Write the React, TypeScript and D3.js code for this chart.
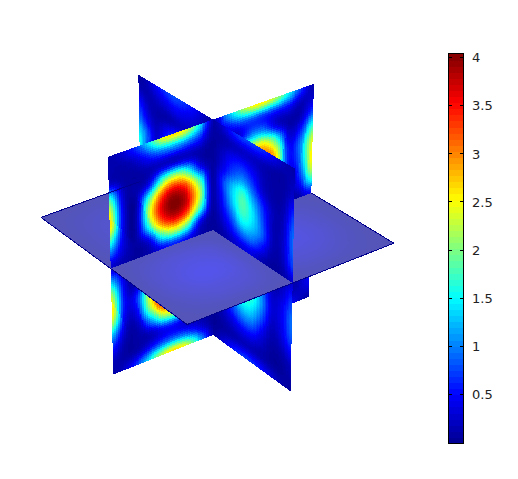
import React from "react";
import * as d3 from "d3";

// Colour limits and colourbar labels
const cMin = 0;
const cMax = 4.04;
const tickValues = [0.5, 1, 1.5, 2, 2.5, 3, 3.5, 4];
const tickLabels = ["0.5", "1", "1.5", "2", "2.5", "3", "3.5", "4"];
const jetStops = ["#00008f", "#0000ff", "#00ffff", "#ffff00", "#ff0000", "#800000"];

// Plane through the vertical axis, front-left (col 0) to back-right (col 16); rows top to bottom
const planeB: number[][] = [
  [.1, .3, .7, 1.4, 2.4, 2.7, 2.4, 1.4, .2, 1.0, 1.9, 2.5, 2.6, 2.2, 1.5, .7, .1],
  [.15, .12, .25, .6, .9, 1.0, .9, .6, .1, .4, .7, .8, .7, .6, .5, .2, .3],
  [.3, .12, .08, .15, .25, .25, .25, .12, .05, .1, .35, .95, .95, .35, .12, .2, .8],
  [1.7, .3, .12, .45, 1.7, 2.2, 1.7, .45, .08, .35, 1.7, 2.4, 2.5, 1.7, .35, .6, 1.7],
  [2.5, .45, .12, 1.7, 3.15, 3.65, 3.15, 1.7, .08, 1.05, 2.6, 3.5, 3.3, 2.6, .6, 1.0, 2.4],
  [2.65, .5, .15, 2.2, 3.65, 4.05, 3.65, 2.2, .1, 1.05, 2.7, 3.7, 3.7, 2.7, .6, 1.0, 2.6],
  [1.8, .4, .12, 1.7, 3.15, 3.65, 3.15, 1.7, .08, .35, 1.8, 2.7, 2.7, 1.8, .35, .8, 2.4],
  [.9, .3, .08, .45, 1.7, 2.2, 1.7, .45, .06, .12, .35, 1.05, 1.05, .35, .15, .5, 1.6],
  [.3, .15, .06, .15, .45, .6, .45, .15, .05, .08, .12, .2, .2, .15, .1, .15, .5],
  [1.2, .3, .12, .6, 1.5, 1.7, 1.1, .3, .06, .2, .7, 1.5, 1.7, 1.4, .6, .3, 1.2],
  [2.2, .45, .3, 1.9, 3.1, 3.35, 2.4, .9, .1, .9, 2.2, 3.0, 3.1, 2.4, .9, .6, 2.0],
  [2.65, .55, .7, 2.5, 3.7, 3.9, 3.2, 1.4, .15, 1.2, 2.8, 3.6, 3.5, 2.6, 1.0, .8, 2.4],
  [2.3, .45, .5, 2.2, 3.45, 3.6, 2.8, 1.1, .12, 1.0, 2.4, 3.0, 2.9, 2.1, .8, .6, 2.0],
  [1.3, .25, .2, 1.1, 2.1, 2.3, 1.65, .4, .08, .6, 1.5, 2.0, 1.9, 1.2, .5, .3, 1.2],
  [.6, .12, .1, .2, .5, .55, .3, .15, .06, .25, .6, .7, .7, .5, .2, .2, .6],
  [.2, .1, .18, .5, .8, .9, .75, .35, .06, .2, .4, .5, .5, .4, .2, .2, .4],
  [.1, .3, .8, 1.6, 2.4, 2.7, 2.3, 1.2, .2, .7, 1.5, 2.2, 2.3, 1.8, .9, .3, .1],
];

// Plane through the vertical axis, back-left (col 0) to front-right (col 16); rows top to bottom
const planeA: number[][] = [
  [.05, .2, .5, .7, .8, .7, .5, .25, .1, .3, .6, .75, .75, .65, .45, .2, .1],
  [.2, .15, .25, .35, .45, .4, .3, .15, .08, .12, .2, .25, .25, .2, .12, .1, .2],
  [.6, .25, .12, .12, .2, .25, .2, .1, .05, .25, .5, .6, .45, .2, .1, .1, .3],
  [.9, .45, .2, .5, .8, .7, .4, .15, .06, .4, .8, 1.05, .75, .3, .12, .15, .6],
  [1.35, .8, .3, .8, 1.3, 1.2, .6, .2, .08, .7, 1.3, 1.72, 1.2, .65, .2, .2, .85],
  [1.6, .7, .3, .9, 1.5, 1.4, .7, .2, .1, .6, 1.3, 1.8, 1.45, .8, .2, .25, .95],
  [1.1, .4, .3, .8, 1.3, 1.2, .6, .2, .08, .45, .95, 1.5, 1.3, .85, .2, .25, .9],
  [.7, .3, .2, .5, .8, .7, .4, .15, .06, .25, .55, .85, .85, .5, .12, .2, .7],
  [.3, .1, .1, .2, .3, .3, .15, .08, .05, .1, .25, .35, .35, .15, .06, .1, .3],
  [.7, .3, .2, .5, .8, .7, .4, .15, .06, .35, .8, 1.1, 1.05, .6, .15, .25, .6],
  [1.1, .4, .3, .8, 1.3, 1.2, .6, .2, .1, .55, 1.25, 1.7, 1.6, 1.0, .3, .4, .85],
  [1.3, .5, .3, .9, 1.5, 1.4, .7, .2, .1, .6, 1.3, 1.8, 1.7, 1.1, .35, .45, .95],
  [1.1, .4, .3, .8, 1.3, 1.2, .6, .2, .08, .45, .95, 1.45, 1.4, .85, .25, .4, .85],
  [.7, .3, .2, .5, .8, .7, .4, .15, .06, .3, .65, .95, .95, .5, .15, .25, .55],
  [.5, .2, .1, .15, .2, .25, .2, .1, .05, .15, .3, .45, .45, .25, .08, .1, .25],
  [.2, .15, .2, .3, .4, .4, .3, .15, .05, .08, .15, .2, .2, .15, .08, .06, .12],
  [.05, .2, .5, .7, .8, .7, .5, .25, .08, .3, .55, .7, .7, .55, .35, .15, .05],
];

// Horizontal plane: rows along the A direction (back to front), cols along the B direction (front to back)
const planeH: number[][] = [
  [.02, .03, .04, .05, .04, .05, .06, .04, .02],
  [.03, .1, .14, .14, .08, .14, .16, .12, .04],
  [.04, .14, .22, .2, .1, .2, .26, .16, .05],
  [.04, .14, .18, .18, .08, .2, .22, .14, .04],
  [.03, .08, .1, .08, .04, .08, .1, .08, .03],
  [.04, .18, .28, .25, .08, .24, .26, .14, .04],
  [.05, .22, .36, .32, .1, .3, .3, .16, .04],
  [.04, .14, .22, .2, .08, .18, .18, .1, .03],
  [.02, .04, .05, .05, .03, .05, .05, .04, .02],
];

const width = 518;
const height = 479;
const bar = { x: 449, w: 14, top: 53.5, bottom: 443 };

const jetDomain = [0, .125, .375, .625, .875, 1].map((f) => cMin + f * (cMax - cMin));
const jet = d3.scaleLinear<string>().domain(jetDomain).range(jetStops).interpolate(d3.interpolateRgb).clamp(true);
const yBar = d3.scaleLinear().domain([0.5, 4]).range([394.4, 57.6]);

// Perspective camera
function project(x: number, y: number, z: number): [number, number] {
  const w = 1 - 0.045 * x + 0.0198 * y - 0.0255 * z;
  return [
    (213 + 66.5 * x + 104.5 * y - 5.43 * z) / w,
    (230 + 40.3 * x - 33.2 * y - 113.5 * z) / w,
  ];
}

function catmull(a: number, b: number, c: number, d: number, t: number) {
  return 0.5 * (2 * b + (c - a) * t + (2 * a - 5 * b + 4 * c - d) * t * t + (3 * b - a - 3 * c + d) * t * t * t);
}

// Smooth surface shading between the cells of a value grid; u, v in [0, 1]
function shade(grid: number[][], u: number, v: number) {
  const rows = grid.length - 1;
  const cols = grid[0].length - 1;
  const fr = Math.min(v * rows, rows - 1e-6);
  const fc = Math.min(u * cols, cols - 1e-6);
  const r = Math.floor(fr);
  const c = Math.floor(fc);
  const at = (i: number, j: number) => grid[Math.max(0, Math.min(rows, i))][Math.max(0, Math.min(cols, j))];
  const row = (i: number) => catmull(at(i, c - 1), at(i, c), at(i, c + 1), at(i, c + 2), fc - c);
  const val = catmull(row(r - 1), row(r), row(r + 1), row(r + 2), fr - r);
  return Math.max(0, val);
}

const steps = 54;
const levels = 160;
type Cell = { d: string; fill: string };

// One quarter of a plane: small quads, merged into one path per colour level
function patch(
  grid: number[][],
  uRange: [number, number],
  vRange: [number, number],
  toWorld: (u: number, v: number) => [number, number, number],
  colour: (value: number) => string
): Cell[] {
  const buckets = new Map<number, string[]>();
  const uS = d3.scaleLinear().domain([0, steps]).range(uRange);
  const vS = d3.scaleLinear().domain([0, steps]).range(vRange);
  const line = d3.line();
  for (let i = 0; i < steps; i++) {
    for (let j = 0; j < steps; j++) {
      const corners = [[i, j], [i + 1, j], [i + 1, j + 1], [i, j + 1]].map(([a, b]) => {
        const [x, y, z] = toWorld(uS(a), vS(b));
        return project(x, y, z);
      });
      const value = shade(grid, uS(i + 0.5), vS(j + 0.5));
      const level = Math.min(levels - 1, Math.floor((value / cMax) * levels));
      if (!buckets.has(level)) buckets.set(level, []);
      buckets.get(level)!.push(line(corners as [number, number][]) + "Z");
    }
  }
  return Array.from(buckets, ([level, parts]) => ({
    d: parts.join(""),
    fill: colour(((level + 0.5) / levels) * cMax),
  }));
}

const whiteMix = (value: number) => d3.interpolateRgb("#ffffff", jet(value))(0.67);

const onA = (u: number, v: number): [number, number, number] => [2 * u - 1, 0, 1 - 2 * v];
const onB = (u: number, v: number): [number, number, number] => [0, 2 * u - 1, 1 - 2 * v];
const onH = (u: number, v: number): [number, number, number] => [2 * v - 1, 2 * u - 1, 0];

const layers: Cell[] = [
  // below the horizontal plane, far to near
  ...patch(planeA, [0, .5], [.5, 1], onA, jet),
  ...patch(planeB, [.5, 1], [.5, 1], onB, jet),
  ...patch(planeA, [.5, 1], [.5, 1], onA, jet),
  ...patch(planeB, [0, .5], [.5, 1], onB, jet),
  // the horizontal plane
  ...patch(planeH, [.5, 1], [0, .5], onH, whiteMix),
  ...patch(planeH, [0, .5], [0, .5], onH, whiteMix),
  ...patch(planeH, [.5, 1], [.5, 1], onH, whiteMix),
  ...patch(planeH, [0, .5], [.5, 1], onH, whiteMix),
  // above the horizontal plane, far to near
  ...patch(planeA, [0, .5], [0, .5], onA, jet),
  ...patch(planeB, [.5, 1], [0, .5], onB, jet),
  ...patch(planeA, [.5, 1], [0, .5], onA, jet),
  ...patch(planeB, [0, .5], [0, .5], onB, jet),
];

const hFrontEdge = d3.line()([project(-1, -1, 0), project(1, -1, 0), project(1, 1, 0)]) ?? "";
const hBackLeft = d3.line()([project(-1, -1, 0), project(-1, 0, 0)]) ?? "";
const hBackRight = d3.line()([project(1, 1, 0), project(0, 1, 0)]) ?? "";

const barLevels = d3.range(64);
const barY = d3.scaleLinear().domain([0, 64]).range([bar.bottom, bar.top]);

export default function App() {
  return (
    <svg
      width={width}
      height={height}
      viewBox={`0 0 ${width} ${height}`}
      style={{ position: "absolute", left: 0, top: 0, background: "#fff" }}
    >
      <g shapeRendering="crispEdges">
        {layers.map((c, i) => (
          <path key={i} d={c.d} fill={c.fill} />
        ))}
      </g>
      <g fill="none" stroke="#00008f" strokeWidth={1} shapeRendering="crispEdges">
        <path d={hFrontEdge} />
        <path d={hBackLeft} />
        <path d={hBackRight} />
      </g>
      <g shapeRendering="crispEdges">
        {barLevels.map((l) => (
          <rect
            key={l}
            x={bar.x}
            width={bar.w}
            y={barY(l + 1)}
            height={barY(l) - barY(l + 1) + 1}
            fill={jet(cMin + ((l + 0.5) / 64) * (cMax - cMin))}
          />
        ))}
        <rect x={bar.x - 0.5} y={bar.top - 0.5} width={bar.w + 1} height={bar.bottom - bar.top + 1} fill="none" stroke="#000" />
        {tickValues.map((t) => (
          <g key={t} stroke="#000">
            <line x1={bar.x} x2={bar.x + 3} y1={yBar(t)} y2={yBar(t)} />
            <line x1={bar.x + bar.w - 3} x2={bar.x + bar.w} y1={yBar(t)} y2={yBar(t)} />
          </g>
        ))}
      </g>
      <g fontFamily="'DejaVu Sans', sans-serif" fontSize={13} fill="#222">
        {tickValues.map((t, i) => (
          <text key={t} x={472} y={yBar(t)} dy="0.36em">
            {tickLabels[i]}
          </text>
        ))}
      </g>
    </svg>
  );
}
